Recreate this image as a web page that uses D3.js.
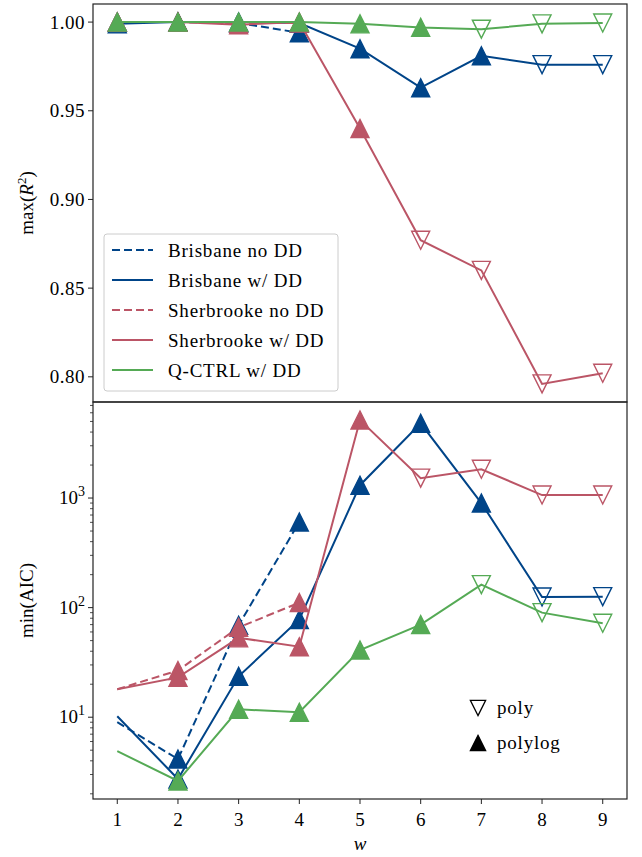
<!DOCTYPE html>
<html>
<head>
<meta charset="utf-8">
<script src="https://cdn.jsdelivr.net/npm/d3@7"></script>
<style>
  body { margin: 0; background: #fff; }
  text { font-family: "Liberation Serif", "Times New Roman", serif; fill: #000; }
</style>
</head>
<body>
<script>
let width = 642;
let height = 857;

// data
let ws = [1, 2, 3, 4, 5, 6, 7, 8, 9];

let brisNoDDR2 = [1.000, 1.000, 0.9995, 0.994];
let brisDDR2 = [0.999, 1.000, 1.000, 0.9995, 0.985, 0.963, 0.981, 0.976, 0.976];
let sherNoDDR2 = [1.000, 1.000, 0.9995, 0.9995];
let sherDDR2 = [1.000, 1.000, 0.9985, 1.000, 0.940, 0.877, 0.860, 0.796, 0.802];
let qctrlR2 = [1.000, 1.000, 1.000, 1.000, 0.999, 0.997, 0.996, 0.999, 0.9995];

let brisNoDDAic = [9.0, 4.15, 69, 605];
let brisDDAic = [10.2, 2.73, 23.6, 78, 1310, 4800, 900, 125, 126];
let sherNoDDAic = [18, 26.7, 66, 111];
let sherDDAic = [18, 23.1, 53, 44, 5150, 1520, 1830, 1065, 1065];
let qctrlAic = [4.9, 2.62, 11.8, 11.1, 41, 70, 162, 90, 72];

// which fit won at each w: "polylog" (filled up), "poly" (open down), null = no marker
let brisNoDDFitTop = ["polylog", "polylog", "polylog", "polylog"];
let brisDDFitTop = ["polylog", "polylog", "polylog", "polylog", "polylog", "polylog", "polylog", "poly", "poly"];
let sherNoDDFitTop = ["polylog", "polylog", "polylog", "polylog"];
let sherDDFitTop = ["polylog", "polylog", "polylog", "polylog", "polylog", "poly", "poly", "poly", "poly"];
let qctrlFitTop = ["polylog", "polylog", "polylog", "polylog", "polylog", "polylog", "poly", "poly", "poly"];

let brisNoDDFitBot = [null, "polylog", "polylog", "polylog"];
let brisDDFitBot = [null, "polylog", "polylog", "polylog", "polylog", "polylog", "polylog", "poly", "poly"];
let sherNoDDFitBot = [null, "polylog", "polylog", "polylog"];
let sherDDFitBot = [null, "polylog", "polylog", "polylog", "polylog", "poly", "poly", "poly", "poly"];
let qctrlFitBot = [null, "polylog", "polylog", "polylog", "polylog", "polylog", "poly", "poly", "poly"];

let seriesNames = ["Brisbane no DD", "Brisbane w/ DD", "Sherbrooke no DD", "Sherbrooke w/ DD", "Q-CTRL w/ DD"];
let seriesColors = ["#004488", "#004488", "#BB5566", "#BB5566", "#55AA55"];
let seriesDashed = [true, false, true, false, false];

let r2Ticks = [0.80, 0.85, 0.90, 0.95, 1.00];
let aicTicks = [10, 100, 1000];

let seriesTop = [brisNoDDR2, brisDDR2, sherNoDDR2, sherDDR2, qctrlR2];
let seriesBot = [brisNoDDAic, brisDDAic, sherNoDDAic, sherDDAic, qctrlAic];
let fitsTop = [brisNoDDFitTop, brisDDFitTop, sherNoDDFitTop, sherDDFitTop, qctrlFitTop];
let fitsBot = [brisNoDDFitBot, brisDDFitBot, sherNoDDFitBot, sherDDFitBot, qctrlFitBot];

let svg = d3.select("body").append("svg")
            .attr("width", width)
            .attr("height", height);

let plotLeft = 93, plotRight = 627, plotTop = 4, plotMid = 402, plotBottom = 799;
let fontSize = 19;
let markerHalf = 9;

let x = d3.scaleLinear().domain([0.6, 9.4]).range([plotLeft, plotRight]);

// matplotlib style 5% margins
let allTop = seriesTop.flat();
let topMin = d3.min(allTop), topMax = d3.max(allTop);
let topPad = (topMax - topMin) * 0.05;
let yTop = d3.scaleLinear().domain([topMin - topPad, topMax + topPad]).range([plotMid, plotTop]);

let allBot = seriesBot.flat().map(v => Math.log10(v));
let botMin = d3.min(allBot), botMax = d3.max(allBot);
let botPad = (botMax - botMin) * 0.05;
let yBot = d3.scaleLog().domain([Math.pow(10, botMin - botPad), Math.pow(10, botMax + botPad)]).range([plotBottom, plotMid]);

function markerPath(kind) {
  let s = markerHalf;
  if (kind === "polylog") return "M0," + (-s) + "L" + s + "," + s + "L" + (-s) + "," + s + "Z";
  return "M0," + s + "L" + s + "," + (-s) + "L" + (-s) + "," + (-s) + "Z";
}

function drawSeries(g, yScale, values, fits, i) {
  let color = seriesColors[i];
  let pts = values.map((v, k) => ({ w: ws[k], v: v, fit: fits[k] }));
  let line = d3.line().x(d => x(d.w)).y(d => yScale(d.v));
  g.append("path")
   .datum(pts)
   .attr("d", line)
   .attr("fill", "none")
   .attr("stroke", color)
   .attr("stroke-width", 2)
   .attr("stroke-dasharray", seriesDashed[i] ? "8,4" : null);
  g.selectAll(null)
   .data(pts.filter(d => d.fit))
   .enter().append("path")
   .attr("d", d => markerPath(d.fit))
   .attr("transform", d => "translate(" + x(d.w) + "," + yScale(d.v) + ")")
   .attr("fill", d => d.fit === "polylog" ? color : "none")
   .attr("stroke", color)
   .attr("stroke-width", 1.4)
   .attr("stroke-linejoin", "miter");
}

// clip paths for each panel
let defs = svg.append("defs");
defs.append("clipPath").attr("id", "clipTop").append("rect")
    .attr("x", plotLeft).attr("y", plotTop).attr("width", plotRight - plotLeft).attr("height", plotMid - plotTop);
defs.append("clipPath").attr("id", "clipBot").append("rect")
    .attr("x", plotLeft).attr("y", plotMid).attr("width", plotRight - plotLeft).attr("height", plotBottom - plotMid);

let gTop = svg.append("g").attr("clip-path", "url(#clipTop)");
let gBot = svg.append("g").attr("clip-path", "url(#clipBot)");

seriesTop.forEach((vals, i) => drawSeries(gTop, yTop, vals, fitsTop[i], i));
seriesBot.forEach((vals, i) => drawSeries(gBot, yBot, vals, fitsBot[i], i));

// top axis ticks
let topAxis = svg.append("g").attr("transform", "translate(" + plotLeft + ",0)");
topAxis.selectAll("line")
       .data(r2Ticks).enter().append("line")
       .attr("x1", -5).attr("x2", 0)
       .attr("y1", d => yTop(d)).attr("y2", d => yTop(d))
       .attr("stroke", "#222").attr("stroke-width", 1);
topAxis.selectAll("text")
       .data(r2Ticks).enter().append("text")
       .attr("x", -8).attr("y", d => yTop(d))
       .attr("dy", "0.35em")
       .attr("text-anchor", "end")
       .style("font-size", fontSize + "px")
       .style("letter-spacing", "0.5px")
       .text(d => d3.format(".2f")(d));

// bottom log axis ticks
let botAxis = svg.append("g").attr("transform", "translate(" + plotLeft + ",0)");
let minorTicks = yBot.ticks().filter(t => aicTicks.indexOf(t) < 0);
botAxis.selectAll(".minor")
       .data(minorTicks).enter().append("line")
       .attr("class", "minor")
       .attr("x1", -3).attr("x2", 0)
       .attr("y1", d => yBot(d)).attr("y2", d => yBot(d))
       .attr("stroke", "#222").attr("stroke-width", 0.8);
botAxis.selectAll(".major")
       .data(aicTicks).enter().append("line")
       .attr("class", "major")
       .attr("x1", -5).attr("x2", 0)
       .attr("y1", d => yBot(d)).attr("y2", d => yBot(d))
       .attr("stroke", "#222").attr("stroke-width", 1);
let majorLabels = botAxis.selectAll(".lab")
       .data(aicTicks).enter().append("text")
       .attr("class", "lab")
       .attr("x", -8).attr("y", d => yBot(d) + 6)
       .attr("text-anchor", "end")
       .style("font-size", fontSize + "px");
majorLabels.append("tspan").text("10");
majorLabels.append("tspan")
       .attr("dy", -8)
       .style("font-size", "14px")
       .text(d => Math.round(Math.log10(d)));

// x axis
let xAxis = svg.append("g").attr("transform", "translate(0," + plotBottom + ")");
xAxis.selectAll("line")
     .data(ws).enter().append("line")
     .attr("x1", d => x(d)).attr("x2", d => x(d))
     .attr("y1", 0).attr("y2", 5)
     .attr("stroke", "#222").attr("stroke-width", 1);
xAxis.selectAll("text")
     .data(ws).enter().append("text")
     .attr("x", d => x(d)).attr("y", 27)
     .attr("text-anchor", "middle")
     .style("font-size", fontSize + "px")
     .text(d => d);

// frames
svg.append("rect").attr("x", plotLeft).attr("y", plotTop).attr("width", plotRight - plotLeft).attr("height", plotMid - plotTop)
   .attr("fill", "none").attr("stroke", "#222").attr("stroke-width", 1.2);
svg.append("rect").attr("x", plotLeft).attr("y", plotMid).attr("width", plotRight - plotLeft).attr("height", plotBottom - plotMid)
   .attr("fill", "none").attr("stroke", "#222").attr("stroke-width", 1.2);

// axis labels
let yLabTop = svg.append("text")
   .attr("transform", "translate(33," + (plotTop + plotMid) / 2 + ") rotate(-90)")
   .attr("text-anchor", "middle")
   .style("font-size", fontSize + "px");
yLabTop.append("tspan").text("max(");
yLabTop.append("tspan").style("font-style", "italic").text("R");
yLabTop.append("tspan").attr("dy", -7).style("font-size", "13px").text("2");
yLabTop.append("tspan").attr("dy", 7).text(")");

svg.append("text")
   .attr("transform", "translate(33," + (plotMid + plotBottom) / 2 + ") rotate(-90)")
   .attr("text-anchor", "middle")
   .style("font-size", fontSize + "px")
   .text("min(AIC)");

svg.append("text")
   .attr("x", (plotLeft + plotRight) / 2).attr("y", 850)
   .attr("text-anchor", "middle")
   .style("font-size", fontSize + "px")
   .style("font-style", "italic")
   .text("w");

// series legend
let legend = svg.append("g").attr("transform", "translate(104,234)");
legend.append("rect")
      .attr("width", 234).attr("height", 157)
      .attr("rx", 3)
      .attr("fill", "#fff").attr("fill-opacity", 0.8)
      .attr("stroke", "#cccccc").attr("stroke-width", 1);
let items = legend.selectAll("g.item")
      .data(seriesNames).enter().append("g")
      .attr("class", "item")
      .attr("transform", (d, i) => "translate(0," + (16 + i * 30) + ")");
items.append("line")
     .attr("x1", 8).attr("x2", 49)
     .attr("stroke", (d, i) => seriesColors[i])
     .attr("stroke-width", 2)
     .attr("stroke-dasharray", (d, i) => seriesDashed[i] ? "8,4" : null);
items.append("text")
     .attr("x", 64).attr("dy", "0.35em")
     .style("font-size", fontSize + "px")
     .style("letter-spacing", "0.8px")
     .text(d => d);

// marker legend
let fitLegend = svg.append("g").attr("transform", "translate(478,708)");
let fitKinds = ["poly", "polylog"];
let fitItems = fitLegend.selectAll("g")
      .data(fitKinds).enter().append("g")
      .attr("transform", (d, i) => "translate(0," + (i * 35) + ")");
fitItems.append("path")
        .attr("d", d => markerPath(d))
        .attr("transform", "scale(0.85)")
        .attr("fill", d => d === "polylog" ? "#000" : "none")
        .attr("stroke", "#000").attr("stroke-width", 1.5);
fitItems.append("text")
        .attr("x", 19).attr("dy", "0.3em")
        .style("font-size", fontSize + "px")
        .style("letter-spacing", "0.8px")
        .text(d => d);
</script>
</body>
</html>
